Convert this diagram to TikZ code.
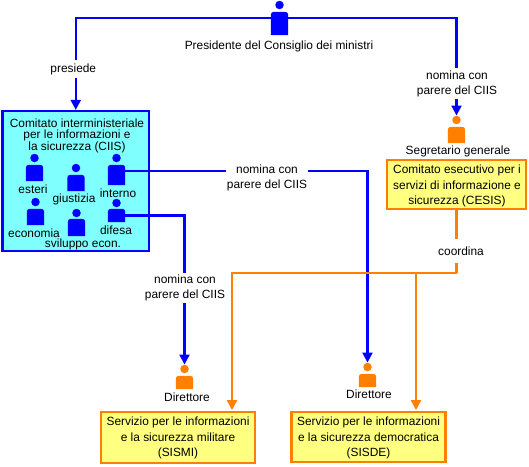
\documentclass[tikz,border=0pt]{standalone}
\usepackage{fontspec}
\setmainfont{Liberation Sans}
\usetikzlibrary{arrows.meta}
\definecolor{bluline}{HTML}{0000FF}
\definecolor{arancio}{HTML}{FF8000}
\definecolor{azzurro}{HTML}{80FFFF}
\definecolor{giallo}{HTML}{FFFF80}
\tikzset{
  testo/.style={font=\fontsize{11.9}{11}\selectfont, align=center, inner sep=0pt},
  etichetta/.style={testo, fill=white, inner xsep=1pt, inner ysep=6pt},
  testa/.style={circle, fill=#1, minimum size=8.5pt, inner sep=0pt},
  corpo/.style={rectangle, minimum width=17pt, inner sep=0pt},
  servizio/.style={draw=arancio, fill=giallo, line width=2.2pt, inner sep=0pt},
  freccia/.style={draw=#1, line width=2.2pt, -{Triangle[width=10pt,length=10pt]}},
  linea/.style={draw=#1, line width=2.2pt}
}
\begin{document}
\begin{tikzpicture}[x=1pt,y=-1pt]
\useasboundingbox (0,0) rectangle (529,466);
% boxes
\node[draw=bluline, fill=azzurro, line width=2.2pt, minimum width=146.5pt, minimum height=140pt, inner sep=0pt] (ciis) at (75.75,181) {};
\node[servizio, minimum width=139pt, minimum height=49.5pt] (cesis) at (456.5,184.5) {};
\node[servizio, minimum width=154pt, minimum height=51pt] (sismi) at (178,437.5) {};
\node[servizio, minimum width=154pt, minimum height=50pt] (sisde) at (368.5,437) {};
% persons
\foreach \n/\x/\ty/\by/\h/\c in {
  pres/279.5/5/23.5/23/bluline,
  esteri/34.5/158/173/16/bluline,
  giustizia/76/168/183/16/bluline,
  interno/116.5/158/175/20/bluline,
  economia/35.5/202/217/16/bluline,
  sviluppo/76.5/213/227.5/17/bluline,
  difesa/116.5/203/215.5/13/bluline,
  segretario/456.5/120/135/16/arancio,
  dirmil/184.5/369/382.5/13/arancio,
  dirdem/367.5/367/380.5/13/arancio} {
  \node[testa=\c] (\n head) at (\x,\ty) {};
  \node[corpo, minimum height=\h pt] (\n) at (\x,\by) {};
  \fill[\c, rounded corners=3pt] (\n.south west) -- (\n.north west) -- (\n.north east) [sharp corners] -- (\n.south east) -- cycle;
}
\coordinate (preslink) at (279.5,18);
\coordinate (internolink) at (125,171);
\coordinate (arancionodo) at (456.5,273);
\coordinate (sismitop) at (232,410);
\coordinate (sisdetop) at (416,410);
% connectors
\draw[freccia=bluline] (preslink) -| (ciis.north);
\draw[freccia=bluline] (preslink) -| (segretariohead.north);
\draw[freccia=bluline] (internolink) -| (dirdemhead.north);
\draw[freccia=bluline] (difesa.east) -| (dirmilhead.north);
\draw[linea=arancio] (cesis.south) -- (arancionodo);
\draw[freccia=arancio] (arancionodo) -| (sismitop);
\draw[freccia=arancio] (arancionodo -| sisdetop) -- (sisdetop);
% connector labels
\node[etichetta, inner ysep=3pt] (lpresiede) at (73.3,69) {presiede};
\node[etichetta, inner ysep=2pt] (lnominasegr) at (457,83.5) {nomina con\\[4pt]parere del CIIS};
\node[etichetta] (lnominadem) at (267,178) {nomina con\\[4pt]parere del CIIS};
\node[etichetta, inner ysep=1.5pt] (lnominamil) at (185,288) {nomina con\\[4pt]parere del CIIS};
\node[etichetta, inner ysep=8pt] (lcoordina) at (461,251) {coordina};
% texts
\node[testo] (tpres) at (279,46) {Presidente del Consiglio dei ministri};
\node[testo] (tciis) at (77,136) {Comitato interministeriale\\per le informazioni e\\la sicurezza (CIIS)};
\foreach \n/\x/\y/\t in {testeri/33/189/esteri, tgiustizia/74/199/giustizia, tinterno/118/193/interno,
  teconomia/34/233/economia, tdifesa/116/230/difesa, tsviluppo/83/244/sviluppo econ.,
  tsegr/458/151/Segretario generale, tdirmil/187/397/Direttore, tdirdem/369/394/Direttore} {
  \node[testo] (\n) at (\x,\y) {\t};
}
\node[testo] (tcesis) at (457,186) {Comitato esecutivo per i\\[4pt]servizi di informazione e\\[4pt]sicurezza (CESIS)};
\node[testo] (tsismi) at (178,438) {Servizio per le informazioni\\[4pt]e la sicurezza militare\\[4pt](SISMI)};
\node[testo] (tsisde) at (368.5,438) {Servizio per le informazioni\\[4pt]e la sicurezza democratica\\[4pt](SISDE)};
\end{tikzpicture}
\end{document}
